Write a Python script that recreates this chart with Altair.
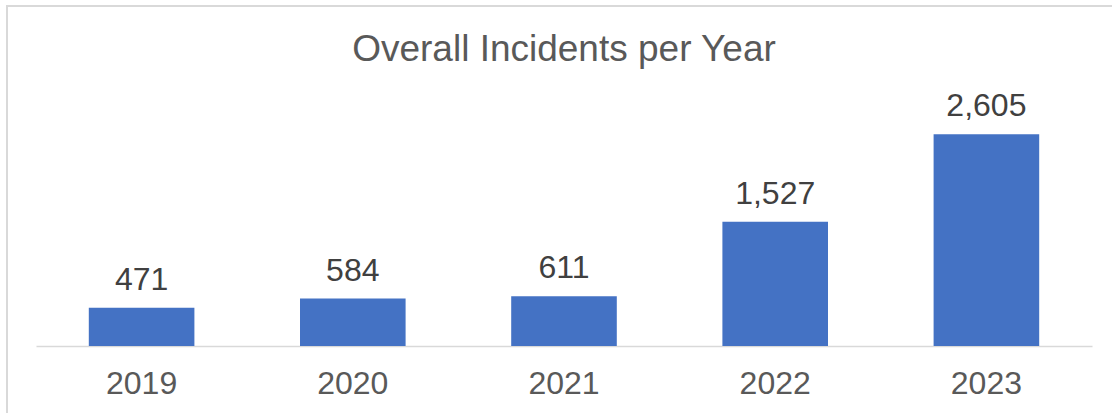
import altair as alt
import pandas as pd

years = ["2019", "2020", "2021", "2022", "2023"]
incidents = [471, 584, 611, 1527, 2605]
title_text = "Overall Incidents per Year"

df = pd.DataFrame({"year": years, "incidents": incidents})

FONT = "Liberation Sans"

x_enc = alt.X(
    "year:N",
    sort=years,
    scale=alt.Scale(paddingInner=0.5, paddingOuter=0.25),
    axis=alt.Axis(
        title=None,
        labelAngle=0,
        labelFontSize=32,
        labelFont=FONT,
        labelColor="#595959",
        labelPadding=22,
        ticks=False,
        domainColor="#d9d9d9",
        domainWidth=1.5,
        grid=False,
    ),
)
y_enc = alt.Y(
    "incidents:Q",
    scale=alt.Scale(domain=[0, 3000], nice=False),
    axis=None,
)

base = alt.Chart(df)

border = alt.Chart(pd.DataFrame({"frame": [1]})).mark_rect(
    fill="transparent", stroke="#d9d9d9", strokeWidth=2
).encode(
    x=alt.value(-29), x2=alt.value(1164),
    y=alt.value(-96), y2=alt.value(400),
)

bars = base.mark_bar(color="#4472C4").encode(x=x_enc, y=y_enc)

labels = base.mark_text(
    baseline="alphabetic", dy=-18, fontSize=32, font=FONT, color="#404040"
).encode(x=x_enc, y=y_enc, text=alt.Text("incidents:Q", format=","))

chart = (
    alt.layer(border, bars, labels)
    .properties(
        width=1056,
        height=244,
        view=alt.ViewBackground(stroke="transparent", strokeWidth=0),
        title=alt.TitleParams(
            text=title_text,
            fontSize=37,
            font=FONT,
            fontWeight="normal",
            color="#595959",
            anchor="middle",
            frame="group",
            baseline="alphabetic",
            offset=-93,
        ),
        autosize=alt.AutoSizeParams(type="none"),
        padding={"left": 36, "top": 102, "right": 20, "bottom": 67},
    )
    .configure_view(strokeWidth=0, stroke="transparent")
    .configure(background="white")
)

chart.save("out.html", embed_options={"renderer": "svg", "actions": False})
